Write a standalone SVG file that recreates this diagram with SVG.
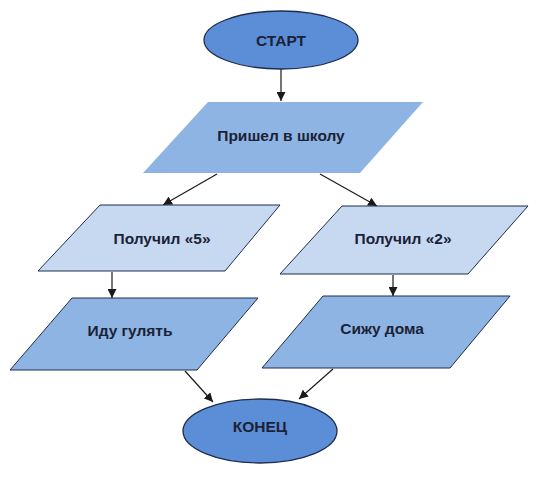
<svg xmlns="http://www.w3.org/2000/svg" width="536" height="492" viewBox="0 0 536 492">
<defs>
<style>
.t{font-family:"Liberation Sans",Arial,sans-serif;font-weight:bold;font-size:15.5px;fill:#1b2236;text-anchor:middle;dominant-baseline:central}
.ell{fill:#5b8ed6;stroke:#1f2d4d;stroke-width:1.3}
.pd{fill:#8eb4e3;stroke:#1f2d4d;stroke-width:1}
.pl{fill:#c6d9f1;stroke:#1f2d4d;stroke-width:1}
.c{stroke:#1a1a1a;stroke-width:1.2;fill:none;marker-end:url(#ah)}
</style>
<marker id="ah" viewBox="0 0 10 10" refX="10" refY="5" markerWidth="9" markerHeight="9" markerUnits="userSpaceOnUse" orient="auto">
<path d="M0,0 L10,5 L0,10 z" fill="#1a1a1a"/>
</marker>
</defs>
<rect width="536" height="492" fill="#ffffff"/>
<g id="connectors">
<line class="c" x1="281" y1="68" x2="281" y2="101"/>
<line class="c" x1="217" y1="174" x2="163" y2="205"/>
<line class="c" x1="320" y1="174" x2="377" y2="206"/>
<line class="c" x1="112" y1="272" x2="112" y2="298"/>
<line class="c" x1="393" y1="275" x2="393" y2="296"/>
<line class="c" x1="185" y1="371" x2="213" y2="402"/>
<line class="c" x1="333" y1="369" x2="299" y2="399"/>
</g>
<g id="start">
<ellipse class="ell" cx="281" cy="40" rx="77" ry="29"/>
<text class="t" x="281" y="40">СТАРТ</text>
</g>
<g id="school">
<polygon points="208,102 423,102 360,173 143,173" fill="#8eb4e3"/>
<text class="t" x="281" y="135">Пришел в школу</text>
</g>
<g id="got5">
<polygon class="pl" points="100,205 280,205 225,271 38,271"/>
<text class="t" x="162" y="238">Получил «5»</text>
</g>
<g id="got2">
<polygon class="pl" points="342,206 528,206 468,274 280,274"/>
<text class="t" x="403" y="238">Получил «2»</text>
</g>
<g id="walk">
<polygon class="pd" points="72,298 258,298 197,370 10,370"/>
<text class="t" x="130" y="330">Иду гулять</text>
</g>
<g id="home">
<polygon class="pd" points="323,296 510,296 450,368 262,368"/>
<text class="t" x="382" y="328">Сижу дома</text>
</g>
<g id="end">
<ellipse class="ell" cx="260" cy="431" rx="77" ry="32"/>
<text class="t" x="260" y="426">КОНЕЦ</text>
</g>
</svg>
